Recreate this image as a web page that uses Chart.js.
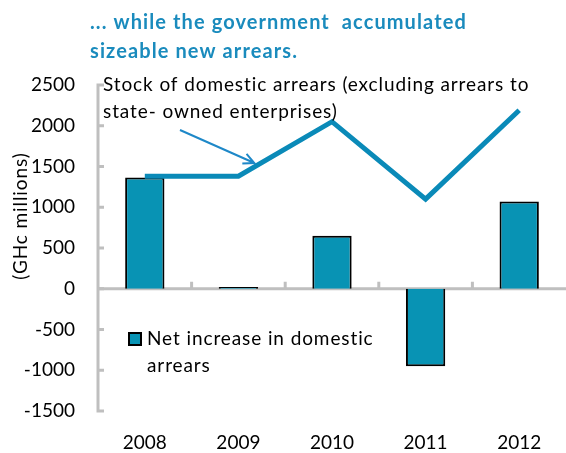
<!DOCTYPE html>
<html>
<head>
<meta charset="utf-8">
<script src="https://cdn.jsdelivr.net/npm/chart.js@4/dist/chart.umd.min.js"></script>
<style>
  html,body{margin:0;padding:0;background:#fff}
  #wrap{width:566px;height:453px}
</style>
</head>
<body>
<div id="wrap"><canvas id="arrears" width="566" height="453"></canvas></div>
<script>
// Ghana domestic arrears, GHc millions
const YEARS = ['2008', '2009', '2010', '2011', '2012'];
const NET_INCREASE = [1365, 20, 650, -950, 1070];
const STOCK = [1380, 1380, 2050, 1100, 2190];
const Y_MIN = -1500, Y_MAX = 2500, Y_STEP = 500;

const TITLE_LINES = ['... while the government  accumulated', 'sizeable new arrears.'];
const STOCK_NOTE = ['Stock of domestic arrears (excluding arrears to', 'state- owned enterprises)'];
const NET_LABEL = ['Net increase in domestic', 'arrears'];
const Y_TITLE = '(GHc millions)';

const BAR = '#0893B4', LINE = '#0A8AB8', TITLE = '#1A8BBD', ARROW = '#1E88C8',
      AXIS = '#BFBFBF', INK = '#000';
const FONT = "Lato, 'Open Sans', sans-serif";

// axes, titles, note and legend drawn straight onto the canvas
const decor = {
  id: 'decor',
  beforeDatasetsDraw(chart) {
    const {ctx, chartArea: a, scales: {x, y}} = chart;
    ctx.save();
    ctx.strokeStyle = AXIS;
    ctx.lineWidth = 3;
    ctx.lineCap = 'butt';
    // vertical axis with inward ticks
    ctx.beginPath();
    ctx.moveTo(a.left, y.getPixelForValue(Y_MAX) - 1.5);
    ctx.lineTo(a.left, y.getPixelForValue(Y_MIN) + 1.5);
    for (let v = Y_MIN; v <= Y_MAX; v += Y_STEP) {
      const py = y.getPixelForValue(v);
      ctx.moveTo(a.left, py);
      ctx.lineTo(a.left + 6, py);
    }
    ctx.stroke();
    // zero line with category boundary ticks
    const y0 = y.getPixelForValue(0);
    ctx.beginPath();
    ctx.moveTo(a.left, y0);
    ctx.lineTo(a.right, y0);
    for (let i = 0; i < YEARS.length - 1; i++) {
      const bx = (x.getPixelForValue(i) + x.getPixelForValue(i + 1)) / 2;
      ctx.moveTo(bx, y0);
      ctx.lineTo(bx, y0 - 7);
    }
    ctx.stroke();
    ctx.restore();
  },
  afterDraw(chart) {
    const {ctx} = chart;
    ctx.save();
    ctx.textBaseline = 'middle';
    ctx.textAlign = 'left';

    ctx.fillStyle = TITLE;
    ctx.font = 'bold 20px ' + FONT;
    ctx.letterSpacing = '1.1px';
    ctx.fillText(TITLE_LINES[0], 90, 23);
    ctx.fillText(TITLE_LINES[1], 90, 52);

    ctx.fillStyle = INK;
    ctx.font = '19px ' + FONT;
    ctx.letterSpacing = '0.9px';
    ctx.fillText(STOCK_NOTE[0], 103, 85);
    ctx.fillText(STOCK_NOTE[1], 103, 112);

    // arrow pointing at the stock line between 2009 and 2010
    const pts = chart.getDatasetMeta(1).data;
    const t = 0.17;
    const tx = pts[1].x + (pts[2].x - pts[1].x) * t;
    const ty = pts[1].y + (pts[2].y - pts[1].y) * t - 4;
    const sx = 180, sy = 130;
    const ang = Math.atan2(ty - sy, tx - sx);
    ctx.strokeStyle = ARROW;
    ctx.lineWidth = 2;
    ctx.beginPath();
    ctx.moveTo(sx, sy);
    ctx.lineTo(tx, ty);
    ctx.moveTo(tx - 12 * Math.cos(ang - 0.45), ty - 12 * Math.sin(ang - 0.45));
    ctx.lineTo(tx, ty);
    ctx.lineTo(tx - 12 * Math.cos(ang + 0.45), ty - 12 * Math.sin(ang + 0.45));
    ctx.stroke();

    // legend entry for the bars
    ctx.fillStyle = BAR;
    ctx.fillRect(129, 333, 12, 12);
    ctx.strokeStyle = INK;
    ctx.lineWidth = 2;
    ctx.strokeRect(129, 333, 12, 12);
    ctx.fillStyle = INK;
    ctx.fillText(NET_LABEL[0], 147, 339);
    ctx.fillText(NET_LABEL[1], 147, 366);

    // vertical axis title
    ctx.translate(21, 216);
    ctx.rotate(-Math.PI / 2);
    ctx.textAlign = 'center';
    ctx.font = '19px ' + FONT;
    ctx.letterSpacing = '0.9px';
    ctx.fillText(Y_TITLE, 0, 0);
    ctx.restore();
  }
};

new Chart(document.getElementById('arrears'), {
  data: {
    labels: YEARS,
    datasets: [
      {type: 'bar', label: NET_LABEL.join(' '), data: NET_INCREASE,
       backgroundColor: BAR, borderColor: INK, borderWidth: 2,
       barPercentage: 0.42, categoryPercentage: 1, order: 2},
      {type: 'line', label: STOCK_NOTE.join(' '), data: STOCK,
       borderColor: LINE, borderWidth: 5, pointRadius: 0, tension: 0,
       borderJoinStyle: 'miter', borderCapStyle: 'butt', fill: false, order: 1}
    ]
  },
  options: {
    responsive: false,
    animation: false,
    layout: {padding: {top: 85, right: 0, left: 0, bottom: 0}},
    plugins: {legend: {display: false}, tooltip: {enabled: false}},
    scales: {
      x: {
        offset: true,
        grid: {display: false, drawTicks: false},
        border: {display: false},
        ticks: {color: INK, font: {family: FONT, size: 19}, padding: 20},
        afterFit: s => { s.height = 42; }
      },
      y: {
        min: Y_MIN, max: Y_MAX,
        grid: {display: false, drawTicks: false},
        border: {display: false},
        ticks: {stepSize: Y_STEP, color: INK, font: {family: FONT, size: 19}, padding: 23,
                callback: v => String(v)},
        afterFit: s => { s.width = 98; }
      }
    }
  },
  plugins: [decor]
});
</script>
</body>
</html>
